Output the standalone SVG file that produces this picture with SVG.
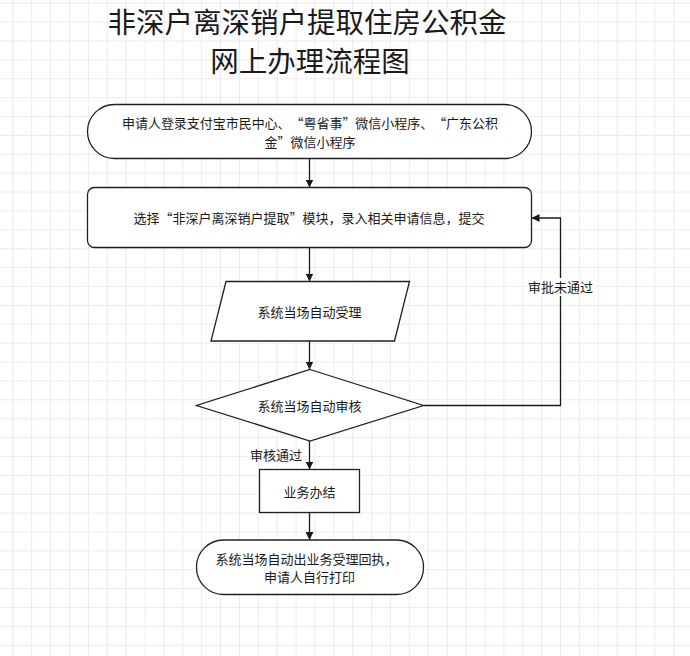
<svg xmlns="http://www.w3.org/2000/svg" width="690" height="656" viewBox="0 0 690 656">
<style>
.shape{fill:#fff;stroke:#1f1f2a;stroke-width:1.3}
.t{font-family:"Noto Sans CJK SC","Noto Sans",sans-serif;font-size:13px;fill:#1a1a1a;text-anchor:middle;text-spacing-trim:space-all}
.title{font-family:"Noto Sans CJK SC","Noto Sans",sans-serif;font-size:28.5px;fill:#1a1a1a;text-anchor:middle}
.edge{fill:none;stroke:#1a1a1a;stroke-width:1.3}
</style>
<defs>
<pattern id="grid" patternUnits="userSpaceOnUse" x="12.3" y="2.7" width="18.886" height="18.886">
<path d="M0 0H18.886M0 0V18.886" fill="none" stroke="#dadada" stroke-width="1"/>
</pattern>
<marker id="arr" viewBox="0 0 10 10" refX="10" refY="5" markerWidth="8" markerHeight="8" markerUnits="userSpaceOnUse" orient="auto">
<path d="M0 0L10 5L0 10z" fill="#1a1a1a"/>
</marker>
</defs>
<rect width="690" height="656" fill="#fff"/>
<rect width="690" height="656" fill="url(#grid)"/>
<g id="title">
<text class="title" x="307" y="33">非深户离深销户提取住房公积金</text>
<text class="title" x="310" y="71.5">网上办理流程图</text>
</g>
<g id="connectors">
<path class="edge" d="M309.5 158.5V187.5" marker-end="url(#arr)"/>
<path class="edge" d="M309.5 247.5V281.5" marker-end="url(#arr)"/>
<path class="edge" d="M309.5 341V369.5" marker-end="url(#arr)"/>
<path class="edge" d="M423.5 405.5H560.5V218H531.5" marker-end="url(#arr)"/>
<path class="edge" d="M309.5 441V469.5" marker-end="url(#arr)"/>
<path class="edge" d="M309.5 512.5V540" marker-end="url(#arr)"/>
<rect x="526" y="278" width="68" height="18" fill="#fff"/>
<text class="t" x="560.5" y="292">审批未通过</text>
<text class="t" x="276" y="459.5">审核通过</text>
</g>
<g id="n1">
<rect class="shape" x="87.5" y="104.5" width="444" height="54" rx="27" ry="27"/>
<text class="t" x="310" y="128" textLength="376" lengthAdjust="spacing">申请人登录支付宝市民中心、“粤省事”微信小程序、“广东公积</text>
<text class="t" x="310" y="147.3">金”微信小程序</text>
</g>
<g id="n2">
<rect class="shape" x="87.5" y="187.5" width="444" height="60" rx="7" ry="7"/>
<text class="t" x="309" y="223">选择“非深户离深销户提取”模块，录入相关申请信息，提交</text>
</g>
<g id="n3">
<polygon class="shape" points="226,281.5 409.5,281.5 394.5,341 211,341"/>
<text class="t" x="309.5" y="317.3">系统当场自动受理</text>
</g>
<g id="n4">
<polygon class="shape" points="310,369.5 423.5,405.5 310,441 196.5,405.5"/>
<text class="t" x="309.5" y="410.5">系统当场自动审核</text>
</g>
<g id="n5">
<rect class="shape" x="259.5" y="469.5" width="100" height="43"/>
<text class="t" x="309.5" y="497">业务办结</text>
</g>
<g id="n6">
<rect class="shape" x="196.5" y="540" width="227" height="54.5" rx="27" ry="27"/>
<text class="t" x="306.5" y="563.5">系统当场自动出业务受理回执，</text>
<text class="t" x="309.5" y="582">申请人自行打印</text>
</g>
</svg>
